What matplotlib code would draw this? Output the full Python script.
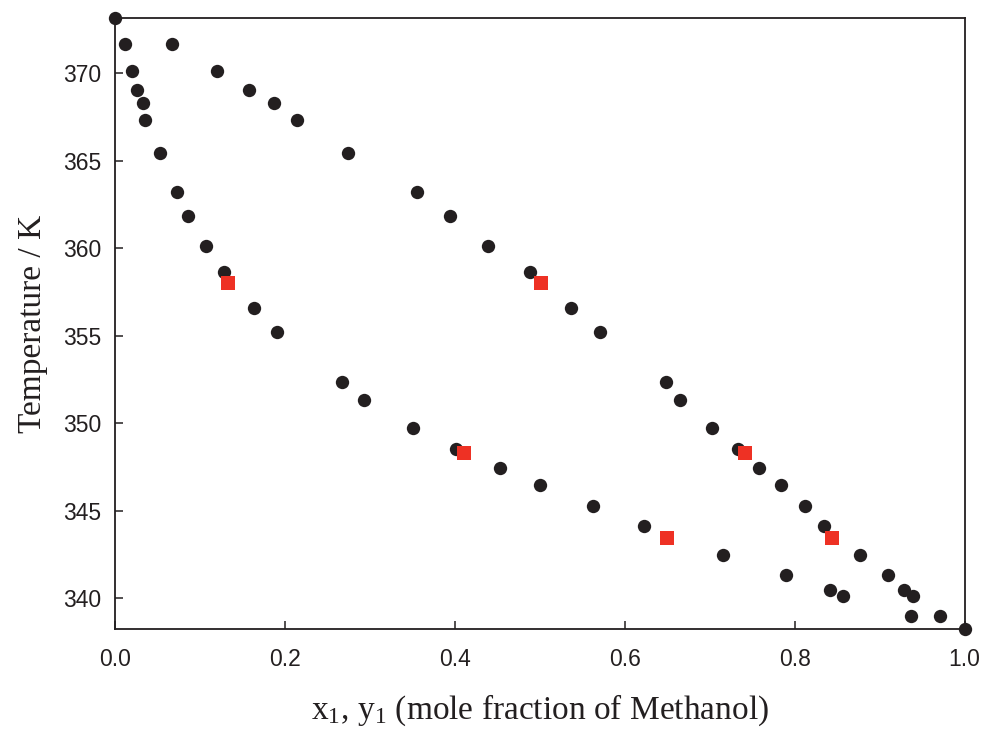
import matplotlib as mpl
import matplotlib.pyplot as plt

mpl.rcParams['mathtext.fontset'] = 'custom'
mpl.rcParams['mathtext.rm'] = 'Liberation Serif'
mpl.rcParams['mathtext.it'] = 'Liberation Serif:italic'

# temperature (K) shared by the liquid and vapour points
temp = [373.15, 371.64, 370.11, 369.03, 368.30, 367.31, 365.41, 363.20, 361.83,
        360.11, 358.61, 356.59, 355.20, 352.33, 351.31, 349.71, 348.51, 347.41,
        346.44, 345.26, 344.13, 342.44, 341.33, 340.46, 340.13, 338.95, 338.23]

# liquid mole fraction of methanol
x1 = [0.000, 0.011, 0.019, 0.025, 0.032, 0.035, 0.052, 0.072, 0.085,
      0.107, 0.128, 0.163, 0.190, 0.267, 0.293, 0.351, 0.401, 0.453,
      0.500, 0.562, 0.623, 0.716, 0.790, 0.842, 0.857, 0.937, 1.000]

# vapour mole fraction (no separate points at the pure-component ends)
temp_v = temp[1:-1]
y1 = [0.067, 0.119, 0.157, 0.187, 0.214, 0.274, 0.355, 0.394,
      0.439, 0.488, 0.536, 0.571, 0.648, 0.665, 0.703, 0.733, 0.758,
      0.784, 0.812, 0.835, 0.877, 0.910, 0.929, 0.939, 0.971]

# red squares (model / other data)
sq_x = [0.133, 0.501, 0.410, 0.742, 0.650, 0.844]
sq_t = [358.02, 358.02, 348.30, 348.30, 343.45, 343.45]

black = '#231f20'
red = '#ee3124'

fig = plt.figure(figsize=(9.82, 7.29), dpi=100)
ax = fig.add_axes([0.1176, 0.1365, 0.8646, 0.8388])

ax.plot(x1, temp, 'o', color=black, markersize=9.6, markeredgewidth=0, clip_on=False)
ax.plot(y1, temp_v, 'o', color=black, markersize=9.6, markeredgewidth=0, clip_on=False)
ax.plot(sq_x, sq_t, 's', color=red, markersize=10, markeredgewidth=0, clip_on=False)

ax.set_xlim(0, 1.0)
ax.set_ylim(338.2, 373.15)
ax.set_xticks([0.0, 0.2, 0.4, 0.6, 0.8, 1.0])
ax.set_xticklabels(['0.0', '0.2', '0.4', '0.6', '0.8', '1.0'])
ax.set_yticks([340, 345, 350, 355, 360, 365, 370])

for s in ax.spines.values():
    s.set_linewidth(1.3)
    s.set_color(black)

ax.tick_params(direction='in', length=6, width=1.1, color=black,
               labelsize=16.5, top=False, right=False)
ax.tick_params(axis='x', pad=13.5)
ax.tick_params(axis='y', pad=10)
for lab in ax.get_xticklabels() + ax.get_yticklabels():
    lab.set_fontfamily('Liberation Sans')
    lab.set_color(black)

ax.set_xlabel(r'$\mathrm{x_1}$, $\mathrm{y_1}$ (mole fraction of Methanol)',
              fontfamily='Liberation Serif', fontsize=24, labelpad=15, color=black)
ax.set_ylabel('Temperature / K', fontfamily='Liberation Serif', fontsize=24,
              labelpad=11, color=black)

fig.savefig('out.png', dpi=100)
